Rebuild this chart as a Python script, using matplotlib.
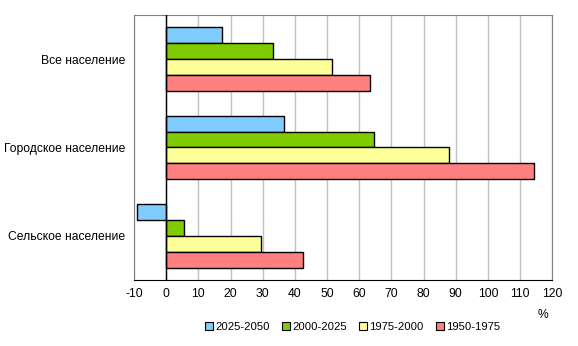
import matplotlib
matplotlib.use("Agg")
import matplotlib.pyplot as plt
import numpy as np
from matplotlib.patches import Patch

plt.rcParams['font.family'] = ['Liberation Sans', 'DejaVu Sans']

categories = ["Все население", "Городское население", "Сельское население"]
periods = ["2025-2050", "2000-2025", "1975-2000", "1950-1975"]
v_2025_2050 = [17.4, 36.7, -9.0]
v_2000_2025 = [33.3, 64.7, 5.6]
v_1975_2000 = [51.6, 88.0, 29.5]
v_1950_1975 = [63.5, 114.2, 42.6]
series = [v_2025_2050, v_2000_2025, v_1975_2000, v_1950_1975]
colors = ["#80CCFF", "#80CC00", "#FFFF99", "#FF8080"]
xticks = list(range(-10, 121, 10))

fig = plt.figure(figsize=(5.78, 3.46), dpi=100)
ax = fig.add_axes([0.2318, 0.1908, 0.7237, 0.7658])

y = np.arange(len(categories))
h = 0.181
offsets = (np.arange(4) - 1.5) * h
for s, vals, c, off in zip(periods, series, colors, offsets):
    ax.barh(y + off, vals, height=h, color=c, edgecolor="black", linewidth=1.0, label=s, zorder=3)

ax.set_xlim(-10, 120)
ax.set_ylim(2.5, -0.5)
ax.set_xticks(xticks)
ax.set_xticklabels([str(t) for t in xticks], fontsize=8.7)
ax.set_yticks(y)
ax.set_yticklabels(categories, fontsize=8.7)
ax.tick_params(axis='x', length=0, pad=6)
ax.tick_params(axis='y', length=0, pad=6.5)
ax.xaxis.grid(True, color="#C0C0C0", linewidth=1.0, zorder=0)
ax.axvline(0, color="black", linewidth=1.0, zorder=4)
for side in ["top", "right", "left"]:
    ax.spines[side].set_color("#808080")
ax.spines["bottom"].set_color("black")

fig.text(0.939, 0.089, "%", fontsize=8.7, ha="center", va="center")

handles = [Patch(facecolor=c, edgecolor="black", linewidth=0.8) for c in colors]
fig.legend(handles, periods, loc="center", bbox_to_anchor=(0.61, 0.056), ncol=4,
           frameon=False, fontsize=8.1, handlelength=0.7, handleheight=0.7,
           handletextpad=0.2, columnspacing=1.1)

fig.savefig("out.png", dpi=100)
